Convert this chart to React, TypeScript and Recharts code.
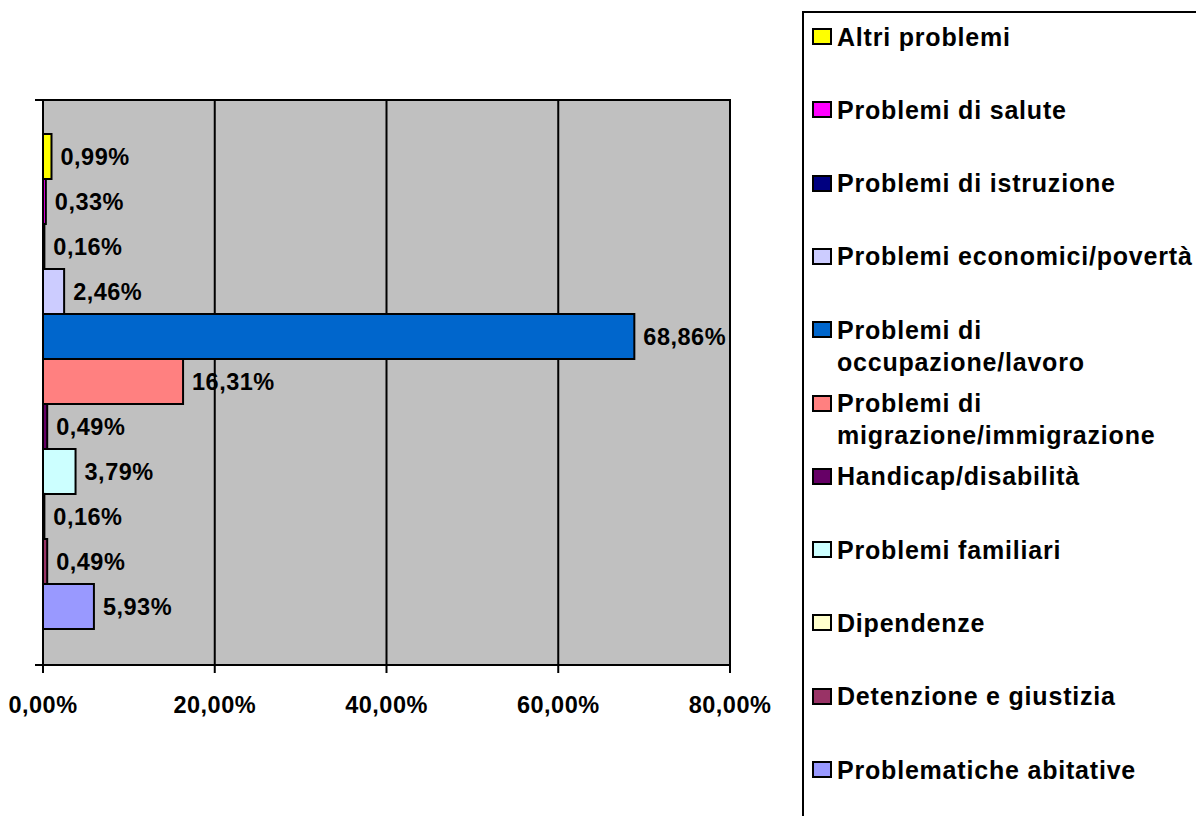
import {
  Bar,
  BarChart,
  CartesianGrid,
  LabelList,
  ReferenceArea,
  XAxis,
  YAxis,
} from 'recharts'

const seriesNames = [
  'Altri problemi',
  'Problemi di salute',
  'Problemi di istruzione',
  'Problemi economici/povertà',
  'Problemi di occupazione/lavoro',
  'Problemi di migrazione/immigrazione',
  'Handicap/disabilità',
  'Problemi familiari',
  'Dipendenze',
  'Detenzione e giustizia',
  'Problematiche abitative',
]

const seriesValues = [0.99, 0.33, 0.16, 2.46, 68.86, 16.31, 0.49, 3.79, 0.16, 0.49, 5.93]

const seriesColors = [
  '#FFFF00',
  '#FF00FF',
  '#000080',
  '#CCCCFF',
  '#0066CC',
  '#FF8080',
  '#660066',
  '#CCFFFF',
  '#FFFFCC',
  '#993366',
  '#9999FF',
]

const category = 'totale'
const xTicks = [0, 20, 40, 60, 80]

const data = [
  seriesNames.reduce<Record<string, number | string>>(
    (row, name, i) => {
      row[`s${i}`] = seriesValues[i]
      return row
    },
    { name: category },
  ),
]

const fmt = (v: number) => `${Number(v).toFixed(2).replace('.', ',')}%`

const textStyle = { fontSize: 23.5, fontWeight: 700, fill: '#000', letterSpacing: 0.5 }

// plot frame with the small left ticks at top and bottom, like the Excel value axis
function PlotFrame(props: any) {
  const { x, y, width, height } = props
  return (
    <g>
      <rect x={x} y={y} width={width} height={height} fill="none" stroke="#000" strokeWidth={2} />
      <line x1={x - 8} y1={y} x2={x} y2={y} stroke="#000" strokeWidth={2} />
      <line x1={x - 8} y1={y + height} x2={x} y2={y + height} stroke="#000" strokeWidth={2} />
    </g>
  )
}

function ChartLegend() {
  return (
    <div
      style={{
        position: 'absolute',
        left: 802,
        top: 11,
        width: 420,
        height: 840,
        border: '2px solid #000',
        boxSizing: 'border-box',
      }}
    >
      {seriesNames.map((name, i) => (
        <div key={name}>
          <div
            style={{
              position: 'absolute',
              left: 8,
              top: 15 + 73.3 * i,
              width: 20,
              height: 17,
              background: seriesColors[i],
              border: '2px solid #000',
              boxSizing: 'border-box',
            }}
          />
          <div
            style={{
              position: 'absolute',
              left: 33,
              top: 7.5 + 73.3 * i,
              width: 364,
              fontSize: 25,
              lineHeight: '32px',
              fontWeight: 700,
              letterSpacing: 0.8,
              color: '#000',
            }}
          >
            {name.replace('/', '/\u2060')}
          </div>
        </div>
      ))}
    </div>
  )
}

export default function App() {
  return (
    <div
      style={{
        position: 'absolute',
        left: 0,
        top: 0,
        width: 1196,
        height: 816,
        background: '#fff',
        fontFamily: '"Liberation Sans", Arial, sans-serif',
        overflow: 'hidden',
      }}
    >
      <BarChart
        width={1196}
        height={816}
        data={data}
        layout="vertical"
        barCategoryGap="6%"
        barGap={0}
        margin={{ top: 100, right: 466, bottom: 101, left: 43 }}
      >
        <CartesianGrid
          yAxisId="cat"
          horizontal={false}
          fill="#C0C0C0"
          fillOpacity={1}
          stroke="#000"
          strokeWidth={2}
        />
        <XAxis
          type="number"
          domain={[0, 80]}
          ticks={xTicks}
          tickFormatter={fmt}
          height={50}
          tickSize={8}
          tickMargin={23}
          tick={textStyle}
          axisLine={{ stroke: '#000', strokeWidth: 2 }}
          tickLine={{ stroke: '#000', strokeWidth: 2 }}
          interval={0}
        />
        <YAxis yAxisId="cat" type="category" dataKey="name" hide />
        <ReferenceArea
          yAxisId="cat"
          x1={0}
          x2={80}
          y1={category}
          y2={category}
          ifOverflow="visible"
          shape={PlotFrame}
        />
        {seriesNames.map((name, i) => (
          <Bar
            key={name}
            yAxisId="cat"
            dataKey={`s${i}`}
            name={name}
            fill={seriesColors[i]}
            stroke="#000"
            strokeWidth={2}
            isAnimationActive={false}
          >
            <LabelList
              dataKey={`s${i}`}
              position="right"
              offset={9}
              formatter={(v: number) => fmt(v)}
              style={textStyle}
            />
          </Bar>
        ))}
      </BarChart>
      <ChartLegend />
    </div>
  )
}
